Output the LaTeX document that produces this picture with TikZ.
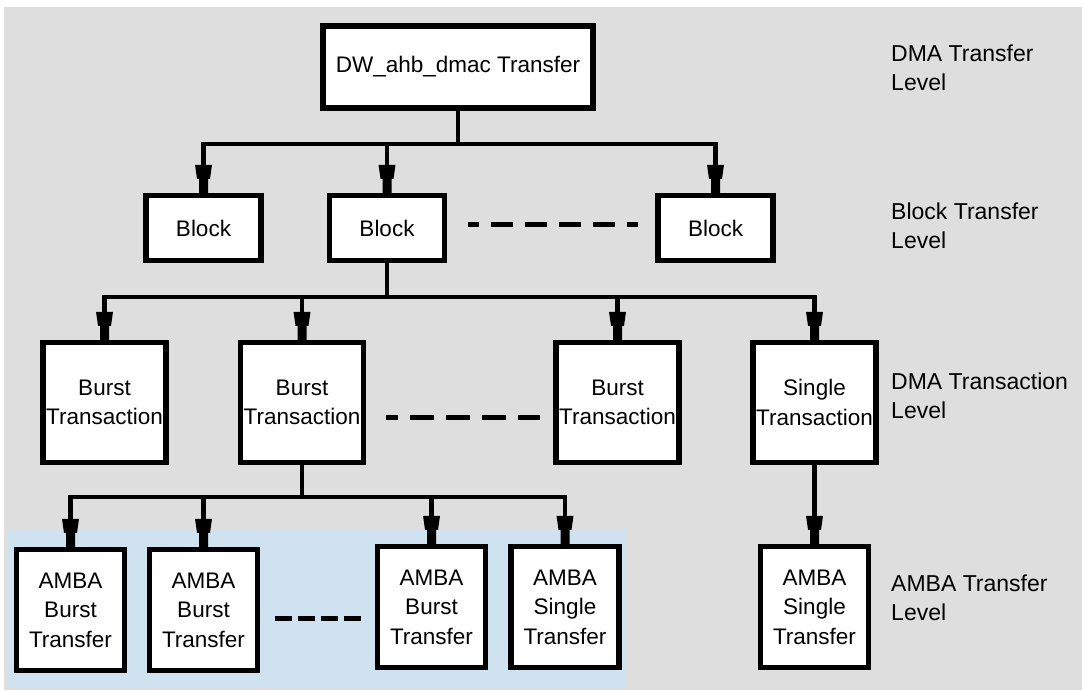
\documentclass[tikz,border=0pt]{standalone}
\usepackage{fontspec}
\setmainfont{Liberation Sans}
\usetikzlibrary{arrows.meta}
\pgfdeclarearrow{
  name = RefHead,
  setup code = {
    \pgfarrowssettipend{0pt}
    \pgfarrowssetbackend{-28pt}
    \pgfarrowssetlineend{-18pt}
    \pgfarrowsupperhullpoint{-28pt}{8.5pt}
    \pgfarrowsupperhullpoint{0pt}{4.5pt}
  },
  drawing code = {
    \pgfpathmoveto{\pgfpoint{0pt}{4.5pt}}
    \pgfpathlineto{\pgfpoint{-14pt}{4.5pt}}
    \pgfpathlineto{\pgfpoint{-14pt}{6.5pt}}
    \pgfpathlineto{\pgfpoint{-28pt}{8.5pt}}
    \pgfpathlineto{\pgfpoint{-28pt}{-8.5pt}}
    \pgfpathlineto{\pgfpoint{-14pt}{-6.5pt}}
    \pgfpathlineto{\pgfpoint{-14pt}{-4.5pt}}
    \pgfpathlineto{\pgfpoint{0pt}{-4.5pt}}
    \pgfpathclose
    \pgfusepathqfill
  },
  defaults = {}
}
\definecolor{bggray}{RGB}{222,222,222}
\definecolor{ambablue}{RGB}{207,226,240}
\newcommand\bxfont{\fontsize{22.5}{29.5}\selectfont}
\newcommand\lbfont{\fontsize{23}{29}\selectfont}
\tikzset{
  box/.style={draw, line width=5.5pt, fill=white, inner sep=0pt, align=center, font=\bxfont},
  blk/.style={minimum width=115pt, minimum height=65pt},
  trn/.style={minimum width=123pt, minimum height=120pt},
  amb/.style={minimum width=108pt, minimum height=121pt},
  conn/.style={line width=4.5pt, line join=miter},
  arr/.style={conn, -{RefHead}},
  dsh/.style={line width=5pt},
  lbl/.style={align=left, anchor=base west, inner sep=0pt, font=\lbfont}
}
\begin{document}
\begin{tikzpicture}[x=1pt,y=-1pt]
\useasboundingbox (0,0) rectangle (1083,691);
\fill[bggray] (4,7) rectangle (1082,690);
\fill[ambablue] (7,530) rectangle (626,687);

% nodes
\node[box, minimum width=270pt, minimum height=82pt] (top) at (458,67) {DW\_ahb\_dmac Transfer};

\node[box,blk] (b1) at (203.5,228) {Block};
\node[box,blk] (b2) at (387,228) {Block};
\node[box,blk] (b3) at (715.5,228) {Block};

\node[box,trn] (t1) at (104.5,402.5) {Burst\\Transaction};
\node[box,trn] (t2) at (302,402.5) {Burst\\Transaction};
\node[box,trn] (t3) at (617.5,402.5) {Burst\\Transaction};
\node[box,trn] (t4) at (814.5,402.5) {Single\\Transaction};

\node[box,amb] (a1) at (70.5,610) {AMBA\\Burst\\Transfer};
\node[box,amb] (a2) at (203.5,610) {AMBA\\Burst\\Transfer};
\node[box,amb] (a3) at (431.5,607) {AMBA\\Burst\\Transfer};
\node[box,amb] (a4) at (565,607) {AMBA\\Single\\Transfer};
\node[box,amb] (a5) at (814.5,607) {AMBA\\Single\\Transfer};

% connectors
\coordinate (j1) at (458,144);
\draw[conn] (top.south) -- (j1);
\draw[arr] (j1) -| (b1.north);
\draw[arr] (j1) -| (b2.north);
\draw[arr] (j1) -| (b3.north);

\coordinate (j2) at (387,297);
\draw[conn] (b2.south) -- (j2);
\draw[arr] (j2) -| (t1.north);
\draw[arr] (j2) -| (t2.north);
\draw[arr] (j2) -| (t3.north);
\draw[arr] (j2) -| (t4.north);

\coordinate (j3) at (302,497);
\draw[conn] (t2.south) -- (j3);
\draw[arr] (j3) -| (a1.north);
\draw[arr] (j3) -| (a2.north);
\draw[arr] (j3) -| (a3.north);
\draw[arr] (j3) -| (a4.north);

\draw[arr] (t4.south) -- (a5.north);

% dashed continuation lines
\draw[dsh, dash pattern=on 22pt off 12pt, dash phase=11pt]
  ([xshift=20.5pt,yshift=4pt]b2.east) -- ([xshift=-17pt,yshift=4pt]b3.west);
\draw[dsh, dash pattern=on 24pt off 12pt, dash phase=12pt]
  ([xshift=19.5pt,yshift=-14.5pt]t2.east) -- ([xshift=-13pt,yshift=-14.5pt]t3.west);
\draw[dsh, dash pattern=on 17pt off 6pt]
  ([xshift=14.5pt,yshift=-8pt]a2.east) -- ([xshift=-13.5pt,yshift=-11pt]a3.west);

% level labels (base anchor = baseline of last line)
\node[lbl] (l1) at (891,90) {DMA Transfer\\Level};
\node[lbl] (l2) at (891,248) {Block Transfer\\Level};
\node[lbl] (l3) at (891,418) {DMA Transaction\\Level};
\node[lbl] (l4) at (891,620) {AMBA Transfer\\Level};
\end{tikzpicture}
\end{document}
